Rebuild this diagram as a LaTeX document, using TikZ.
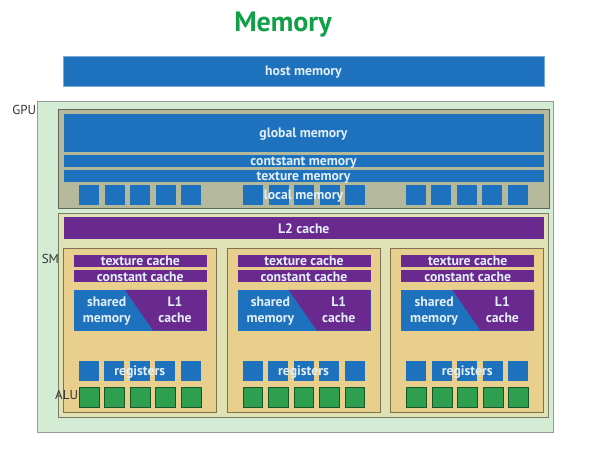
\documentclass[tikz,border=0pt]{standalone}
\usepackage{fontspec}
\setmainfont{PT Sans}
\usetikzlibrary{positioning}
\definecolor{memblue}{HTML}{1E72BD}
\definecolor{mempurple}{HTML}{69298F}
\definecolor{memtext}{HTML}{E2EFF8}
\definecolor{gpugreen}{HTML}{D4ECD4}
\definecolor{globgray}{HTML}{B5B99B}
\definecolor{ltwocol}{HTML}{DFE2B4}
\definecolor{smtan}{HTML}{E8CF8E}
\definecolor{alugreen}{HTML}{2E9E4F}
\definecolor{titlegreen}{HTML}{0FA048}
\begin{document}
\begin{tikzpicture}[x=1pt, y=-1pt, every node/.style={inner sep=0pt, outer sep=0pt}]
        \tikzset{lbl/.style={font=\bfseries\fontsize{13.7}{16}\selectfont, text=memtext, text depth=0pt}}
        \tikzset{tag/.style={font=\fontsize{13}{14}\selectfont, text=black!80}}
        \tikzset{box/.style={anchor=north west, line width=0.8pt}}
        \tikzset{bluebar/.style={box, fill=memblue, lbl}}
        \tikzset{purplebar/.style={box, fill=mempurple, lbl}}
        \tikzset{sq/.style={anchor=north west, minimum size=20, fill=memblue}}
        \tikzset{alu/.style={sq, fill=alugreen, draw=alugreen!55!black, line width=0.8pt}}

        \useasboundingbox (0,0) rectangle (611,449);

        \node[font=\bfseries\fontsize{28}{30}\selectfont, text=titlegreen] (title) at (283,25) {Memory};
        \node[bluebar, draw=memblue!60!white, line width=0.6pt, minimum width=481, minimum height=30] (host_mem) at (63,56) {host memory};

        % GPU
        \node[box, fill=gpugreen, draw=black!40, minimum width=516, minimum height=331] (gpu) at (37.5,101) {};
        \node[tag, anchor=east] (gpu_lbl) at (36,110) {GPU};
        \node[box, fill=globgray, draw=black!45!globgray, minimum width=491, minimum height=99] (dev_mem) at (58,109) {};
        \node[bluebar, minimum width=480, minimum height=38] (glob_mem) at (63.5,114) {global memory};
        \node[bluebar, minimum width=480, minimum height=12] (const_mem) at (63.5,155.5) {contstant memory};
        \node[bluebar, minimum width=480, minimum height=12] (tex_mem) at (63.5,170.5) {texture memory};
        \foreach \g in {79,243,405.5}
          \foreach \k in {0,...,4}
            \node[sq] (loc_\g_\k) at (\g+25.5*\k,185.5) {};
        \node[lbl] (loc_mem) at (303.5,194.5) {local memory};

        % L2 and SMs
        \node[box, fill=ltwocol, draw=black!45!ltwocol, minimum width=490.5, minimum height=204.5] (chip) at (58,213) {};
        \node[purplebar, minimum width=480.5, minimum height=21.5] (l2) at (63.5,217.5) {L2 cache};
        \foreach \i/\x in {1/63.3,2/227,3/390.7} {
          \node[box, fill=smtan, draw=black!45!smtan, minimum width=153, minimum height=163.7] (sm_\i) at (\x,248.3) {};
          \node[purplebar, minimum width=133, minimum height=12.3] (tex_\i) at (\x+10.5,255) {texture cache};
          \node[purplebar, minimum width=133, minimum height=12] (const_\i) at (\x+10.5,270.3) {constant cache};
          \node[box, fill=memblue, minimum width=133, minimum height=40.7] (shared_\i) at (\x+10.5,290) {};
          \fill[mempurple] (\x+61.7,290) -- (shared_\i.north east) -- (shared_\i.south east) -- (\x+90,330.7) -- cycle;
          \node[lbl, align=center] (shared_txt_\i) at (\x+43.4,309.3) {shared\\memory};
          \node[lbl, align=center] (l1_txt_\i) at (\x+111.7,309.3) {L1\\cache};
          \foreach \k in {0,...,4} {
            \node[sq] (reg_\i_\k) at (\x+15.5+25.5*\k,361) {};
            \node[alu, minimum size=19.8] (alu_\i_\k) at (\x+15.9+25.5*\k,387.1) {};
          }
          \node[lbl] (reg_txt_\i) at (\x+76.5,370.5) {registers};
        }
        \node[tag, anchor=east] (sm_lbl) at (59,258.5) {SM};
        \node[tag, anchor=east] (alu_lbl) at (78,395) {ALU};
\end{tikzpicture}
\end{document}
